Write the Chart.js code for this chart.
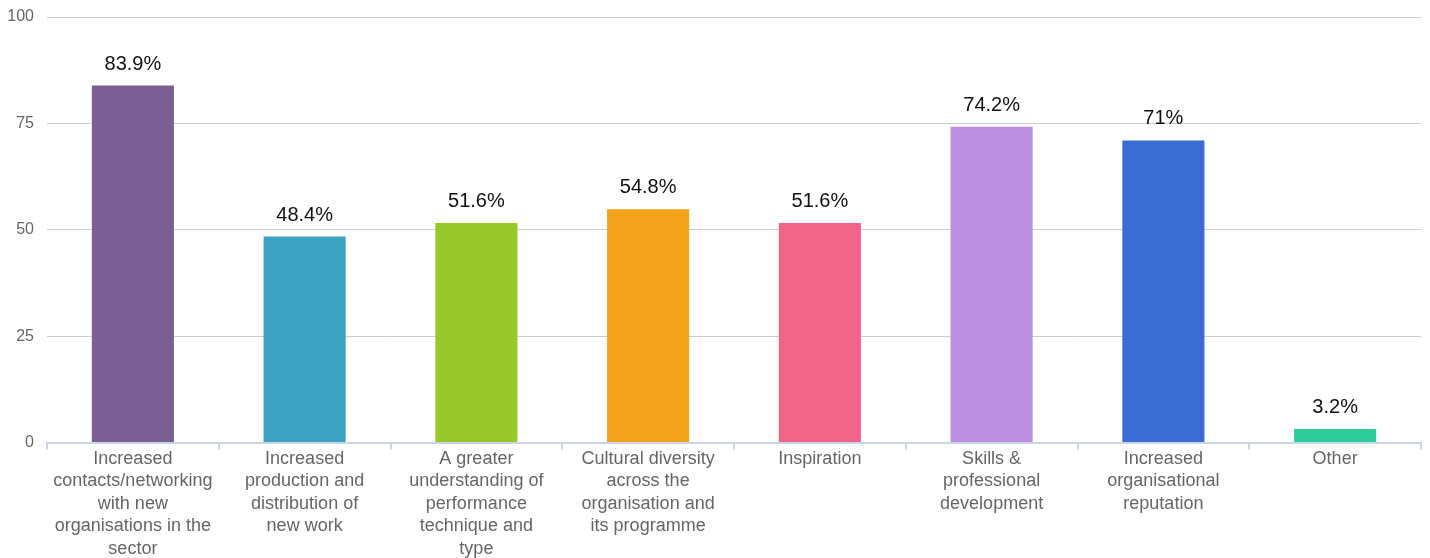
<!DOCTYPE html>
<html>
<head>
<meta charset="utf-8">
<script src="https://cdn.jsdelivr.net/npm/chart.js@4"></script>
<style>
  html, body { margin: 0; padding: 0; background: #fff; }
  #wrap { width: 1430px; height: 558px; position: relative; }
</style>
</head>
<body>
<div id="wrap"><canvas id="chart"></canvas></div>
<script>
labels = [
  ['Increased', 'contacts/networking', 'with new', 'organisations in the', 'sector'],
  ['Increased', 'production and', 'distribution of', 'new work'],
  ['A greater', 'understanding of', 'performance', 'technique and', 'type'],
  ['Cultural diversity', 'across the', 'organisation and', 'its programme'],
  ['Inspiration'],
  ['Skills &', 'professional', 'development'],
  ['Increased', 'organisational', 'reputation'],
  ['Other']
]
values = [83.9, 48.4, 51.6, 54.8, 51.6, 74.2, 71, 3.2]
colors = ['#7b5f93', '#3ea2c3', '#96c929', '#f4a31a', '#f06488', '#bd8fe0', '#3a6cd4', '#2ecc9b']
yTicks = [0, 25, 50, 75, 100]

// draws "83.9%" etc above each bar
valueLabels = {
  id: 'valueLabels',
  afterDatasetsDraw(chart) {
    const ctx = chart.ctx
    const meta = chart.getDatasetMeta(0)
    ctx.save()
    ctx.font = '20px "Liberation Sans", Arial, sans-serif'
    ctx.fillStyle = '#111'
    ctx.textAlign = 'center'
    ctx.textBaseline = 'alphabetic'
    meta.data.forEach((bar, i) => {
      ctx.fillText(values[i] + '%', bar.x, bar.y - 16)
    })
    ctx.restore()
  }
}

config = {
  type: 'bar',
  data: {
    labels,
    datasets: [{
      data: values,
      backgroundColor: colors,
      barPercentage: 0.478,
      categoryPercentage: 1
    }]
  },
  options: {
    responsive: true,
    maintainAspectRatio: false,
    animation: false,
    layout: { padding: { top: 17, right: 9, left: 0, bottom: 0 } },
    plugins: {
      legend: { display: false },
      tooltip: { enabled: false }
    },
    scales: {
      x: {
        grid: {
          offset: true,
          drawOnChartArea: false,
          drawTicks: true,
          tickLength: 7,
          color: '#c9d5e4',
          lineWidth: 2
        },
        border: { color: '#c9d5e4', width: 2 },
        ticks: {
          color: '#666',
          maxRotation: 0,
          autoSkip: false,
          padding: -2,
          font: { family: '"Liberation Sans", Arial, sans-serif', size: 18, lineHeight: 1.25 }
        }
      },
      y: {
        min: 0,
        max: 100,
        afterBuildTicks(axis) { axis.ticks = yTicks.map(v => ({ value: v })) },
        afterFit(axis) {
          axis.width = 47
          axis.paddingTop = 0
          axis.paddingBottom = 0
        },
        grid: { color: '#cccccc', drawTicks: false, lineWidth: 1 },
        border: { display: false },
        ticks: {
          color: '#666',
          padding: 13,
          font: { family: '"Liberation Sans", Arial, sans-serif', size: 16 }
        }
      }
    }
  },
  plugins: [valueLabels]
}

new Chart(document.getElementById('chart'), config)
</script>
</body>
</html>
